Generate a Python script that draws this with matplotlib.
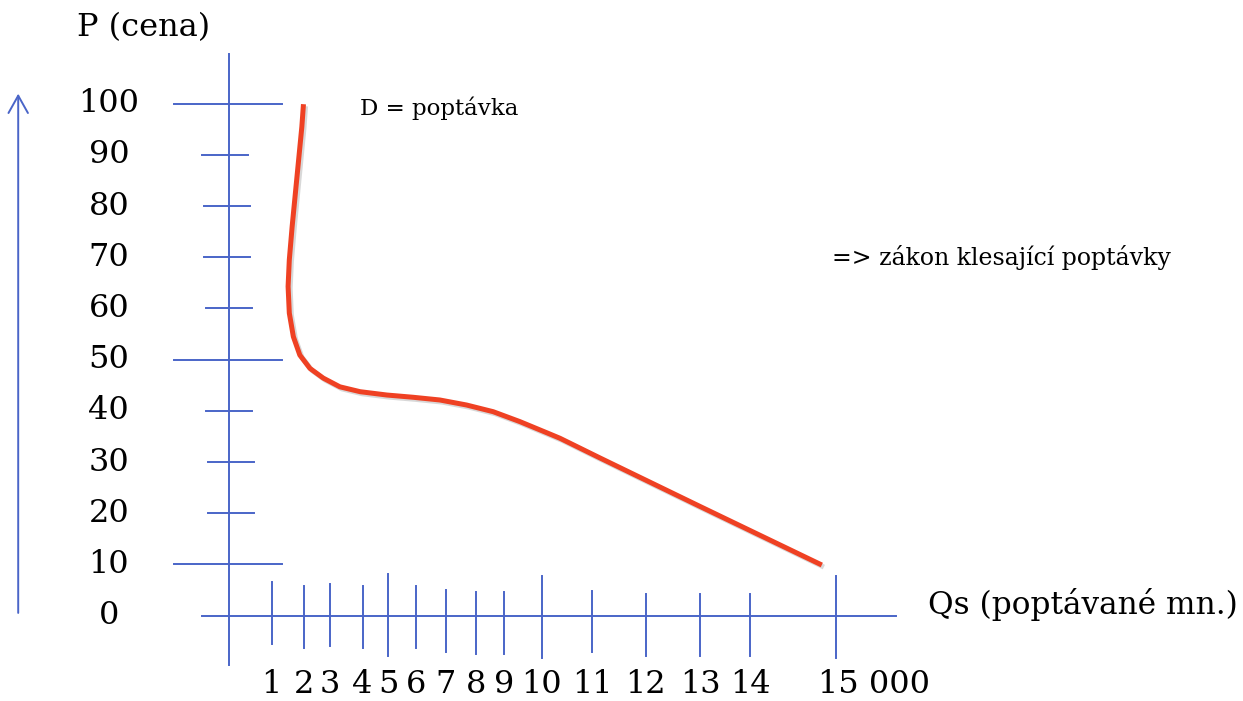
import matplotlib.pyplot as plt
import matplotlib.patheffects as pe

plt.rcParams['font.family'] = ['DejaVu Serif']

# price axis (P) - tick values and how far each drawn tick reaches left/right
price_ticks = [0, 10, 20, 30, 40, 50, 60, 70, 80, 90, 100]
price_tick_left = [None, -1.36, -0.52, -0.52, -0.57, -1.36, -0.57, -0.62, -0.62, -0.67, -1.36]
price_tick_right = [None, 1.31, 0.62, 0.62, 0.57, 1.31, 0.57, 0.52, 0.52, 0.47, 1.31]

# quantity axis (Qs) - hand drawn tick positions and labels
qty_tick_pos = [1.05, 1.85, 2.5, 3.3, 3.93, 4.62, 5.36, 6.1, 6.8, 7.73, 8.97, 10.3, 11.64, 12.88, 15.0]
qty_tick_labels = ['1', '2', '3', '4', '5', '6', '7', '8', '9', '10', '11', '12', '13', '14', '15 000']
qty_tick_top = [6.5, 5.8, 6.2, 5.8, 8.1, 5.8, 5.0, 4.6, 4.6, 7.7, 4.8, 4.2, 4.2, 4.2, 7.7]
qty_tick_bottom = [-5.6, -6.3, -6.0, -6.3, -7.9, -6.3, -7.1, -7.5, -7.5, -8.3, -7.1, -7.9, -7.9, -7.9, -8.3]

# demand curve D
demand_q = [1.84, 1.80, 1.72, 1.64, 1.56, 1.49, 1.46, 1.49, 1.59, 1.75, 2.00, 2.33,
            2.74, 3.24, 3.90, 4.55, 5.21, 5.87, 6.53, 7.19, 7.85, 8.18, 9.17, 11.64, 14.65]
demand_p = [99.9, 95.5, 89.0, 82.5, 76.0, 69.5, 64.3, 59.1, 54.5, 50.9, 48.3, 46.4,
            44.7, 43.75, 43.1, 42.66, 42.13, 41.15, 39.84, 37.9, 35.74, 34.65, 30.8, 21.34, 9.9]

blue = '#4a65c8'
red = '#ef4123'

fig = plt.figure(figsize=(12.43, 7.01), dpi=100)
ax = fig.add_axes([0, 0, 1, 1])
ax.set_xlim(-5.66, 25.06)
ax.set_ylim(-16.66, 120.25)
ax.axis('off')

# axes lines
ax.plot([0, 0], [-9.7, 109.8], color=blue, lw=1.4)
ax.plot([-0.67, 16.48], [0, 0], color=blue, lw=1.4)

# price ticks + labels
for p, l, r in zip(price_ticks, price_tick_left, price_tick_right):
    if l is not None:
        ax.plot([l, r], [p, p], color=blue, lw=1.4)
    ax.text(-2.97, p, str(p), fontsize=23, ha='center', va='center')

# quantity ticks + labels
for q, lab, t, b in zip(qty_tick_pos, qty_tick_labels, qty_tick_top, qty_tick_bottom):
    ax.plot([q, q], [b, t], color=blue, lw=1.4)
    if lab == qty_tick_labels[-1]:
        ax.annotate(lab, (q, -13.4), xytext=(-13, 0), textcoords='offset points',
                    fontsize=23, ha='left', va='center')
    else:
        ax.text(q, -13.4, lab, fontsize=23, ha='center', va='center')

# arrow on the left
ax.annotate('', xy=(-5.21, 102.5), xytext=(-5.21, 0),
            arrowprops=dict(arrowstyle='->,head_length=1.25,head_width=0.7',
                            color=blue, lw=1.4))

# demand curve
ax.plot(demand_q, demand_p, color=red, lw=3.6, solid_capstyle='butt',
        solid_joinstyle='round',
        path_effects=[pe.SimpleLineShadow(offset=(1.5, -1.5), shadow_color='gray', alpha=0.3),
                      pe.Normal()])

ax.text(-2.12, 114.8, 'P (cena)', fontsize=23, ha='center', va='center')
ax.text(17.27, 2.1, 'Qs (poptávané mn.)', fontsize=22.5, ha='left', va='center')
ax.text(3.24, 99.2, 'D = poptávka', fontsize=16.5, ha='left', va='center')
ax.text(14.9, 69.9, '=> zákon klesající poptávky', fontsize=17, ha='left', va='center')

plt.savefig('out.png', dpi=100)
